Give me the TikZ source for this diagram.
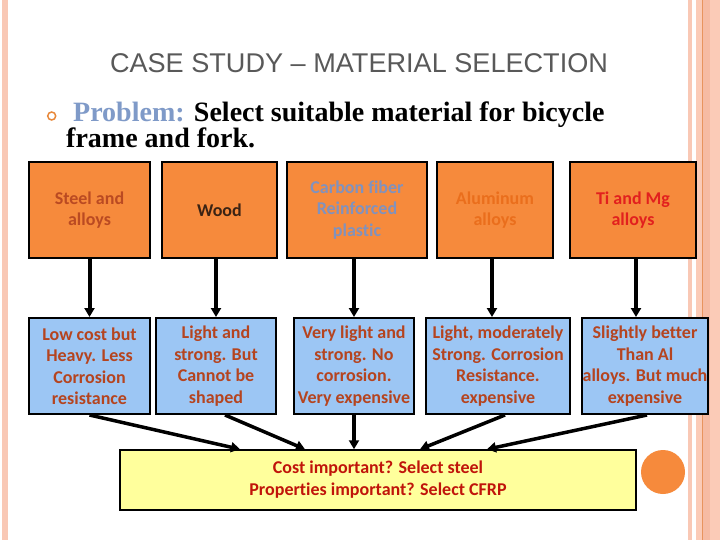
\documentclass[tikz,border=0pt]{standalone}
\usepackage{fontspec}
\setmainfont{Liberation Serif}
\newfontfamily\titlefont{Liberation Sans}
\newfontfamily\boxfont[Ligatures=NoCommon]{Carlito}
\usetikzlibrary{arrows.meta,calc}
\definecolor{orfill}{HTML}{F68A3C}
\definecolor{blfill}{HTML}{9CC6F4}
\definecolor{yefill}{HTML}{FFFF9C}
\definecolor{brtext}{HTML}{B5441F}
\definecolor{titlegray}{HTML}{595959}
\definecolor{probblue}{HTML}{7F9AC8}
\definecolor{pinkA}{HTML}{F9C8B5}
\definecolor{pinkB}{HTML}{FBCBB7}
\definecolor{pinkC}{HTML}{F6BBA3}
\definecolor{orline}{HTML}{E8945E}
\tikzset{
  basebox/.style={draw=black, line width=2pt, inner sep=0pt, align=center,
    font=\boxfont\bfseries\fontsize{18}{21.5}\selectfont},
  topbox/.style={basebox, fill=orfill, minimum height=96pt},
  botbox/.style={basebox, fill=blfill, minimum height=96pt, text=brtext},
  resbox/.style={basebox, fill=yefill, line width=1.5pt, text={rgb,255:red,192;green,20;blue,10},
    font=\boxfont\bfseries\fontsize{18}{22}\selectfont},
  arr/.style={line width=4pt, -{Triangle[width=10pt,length=9pt]}},
  darr/.style={line width=3.5pt, -{Triangle[width=10pt,length=9pt]}}
}
\begin{document}
\begin{tikzpicture}[x=1pt,y=-1pt]
\useasboundingbox (0,0) rectangle (720,540);
\fill[white] (0,0) rectangle (720,540);
% slide border strips
\fill[pinkA] (2,0) rectangle (8,540);
\fill[pinkA] (688,0) rectangle (692,540);
\fill[pinkB] (696,0) rectangle (720,540);
\fill[pinkC] (703,0) rectangle (710,540);
\fill[orline] (701.5,0) rectangle (703,540);
% title
\node[anchor=base, text=titlegray, font=\titlefont\fontsize{27.1}{33}\selectfont, inner sep=0pt] (title) at (359,72.7) {CASE STUDY – MATERIAL SELECTION};
% problem statement
\node[draw={rgb,255:red,232;green,136;blue,58}, line width=1.5pt, circle, minimum size=8pt, inner sep=0pt] (bullet) at (51.7,116) {};
\node[anchor=base west, inner sep=0pt, align=left, font=\bfseries\fontsize{28}{25}\selectfont] (prob) at (66,148) {\hspace*{7pt}\textcolor{probblue}{Problem:} Select suitable material for bicycle\\frame and fork.};
% material boxes
\node[topbox, minimum width=121pt, text={rgb,255:red,186;green,74;blue,34}] (T1) at (89.5,210) {Steel and\\alloys};
\node[topbox, minimum width=115pt, text={rgb,255:red,59;green,35;blue,20}] (T2) at (219.5,210) {Wood};
\node[topbox, minimum width=140pt, text={rgb,255:red,128;green,146;blue,190}] (T3) at (357,210) {Carbon fiber\\Reinforced\\plastic};
\node[topbox, minimum width=116pt, text={rgb,255:red,234;green,110;blue,28}] (T4) at (495,210) {Aluminum\\alloys};
\node[topbox, minimum width=126pt, text={rgb,255:red,226;green,32;blue,30}] (T5) at (633,210) {Ti and Mg\\alloys};
% property boxes
\node[botbox, minimum width=121pt] (B1) at (89.5,366) {Low cost but\\Heavy. Less\\Corrosion\\resistance};
\node[botbox, minimum width=120pt] (B2) at (216,366) {Light and\\strong. But\\Cannot be\\shaped};
\node[botbox, minimum width=120pt] (B3) at (354,366) {Very light and\\strong. No\\corrosion.\\Very expensive};
\node[botbox, minimum width=144pt] (B4) at (498,366) {Light, moderately\\Strong. Corrosion\\Resistance.\\expensive};
\node[botbox, minimum width=126pt] (B5) at (645,366) {Slightly better\\Than Al\\alloys. But much\\expensive};
% result box
\node[resbox, minimum width=516pt, minimum height=60pt] (Y) at (378,480) {Cost important? Select steel\\Properties important? Select CFRP};
% decorative circle
\node[circle, fill=orfill, minimum size=44pt, inner sep=0pt] (dot) at (663,472) {};
% vertical arrows
\draw[arr] (T1.south) -- (T1.south |- B1.north);
\draw[arr] (B2.north |- T2.south) -- (B2.north);
\draw[arr] (B3.north |- T3.south) -- (B3.north);
\draw[arr] ([xshift=-3pt]T4.south) -- ([xshift=-3pt]T4.south |- B4.north);
\draw[arr] ([xshift=3pt]T5.south) -- ([xshift=3pt]T5.south |- B5.north);
% converging arrows
\draw[darr] (B1.south) -- ([xshift=-138pt]Y.north);
\draw[darr] ([xshift=9pt]B2.south) -- ([xshift=-73pt]Y.north);
\draw[darr] (B3.south) -- ([xshift=-24pt]Y.north);
\draw[darr] ([xshift=7pt]B4.south) -- ([xshift=42pt]Y.north);
\draw[darr] ([xshift=2pt]B5.south) -- ([xshift=109pt]Y.north);
\end{tikzpicture}
\end{document}
